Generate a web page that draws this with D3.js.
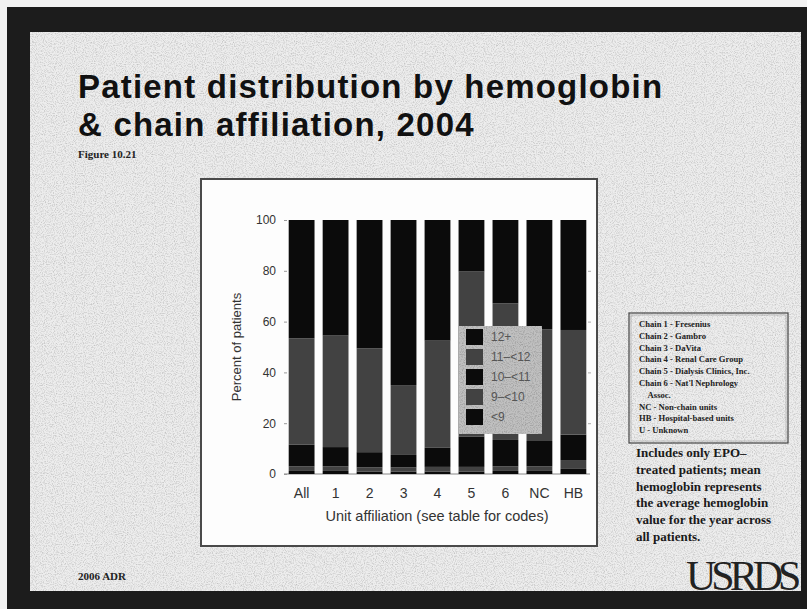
<!DOCTYPE html>
<html><head><meta charset="utf-8">
<script src="https://cdn.jsdelivr.net/npm/d3@7"></script>
<style>html,body{margin:0;padding:0;background:#fff;}svg{display:block;}</style>
</head><body>
<script>
// ---- data ----
const categories = ["All","1","2","3","4","5","6","NC","HB"];
const levels = ["<9","9–<10","10–<11","11–<12","12+"];
const lt9      = [1.2, 1.2, 1.0, 1.0, 1.0, 1.0, 1.2, 1.2, 2.0];
const hb9to10  = [1.8, 1.8, 1.6, 1.6, 1.8, 1.8, 1.8, 1.8, 3.5];
const hb10to11 = [8.5, 7.6, 6.0, 4.9, 7.5, 12.0, 10.4, 10.0, 10.0];
const hb11to12 = [41.9, 43.9, 40.9, 27.5, 42.2, 64.9, 53.8, 44.0, 41.2];
const hb12plus = [46.6, 45.5, 50.5, 65.0, 47.5, 20.3, 32.8, 43.0, 43.3];
const yTicks = [0,20,40,60,80,100];
const legendLabels = ["12+","11–<12","10–<11","9–<10","<9"];
const chainNotes = ["Chain 1 - Fresenius","Chain 2 - Gambro","Chain 3 - DaVita","Chain 4 - Renal Care Group",
  "Chain 5 - Dialysis Clinics, Inc.","Chain 6 - Nat'l Nephrology","    Assoc.","NC - Non-chain units",
  "HB - Hospital-based units","U - Unknown"];
const noteLines = ["Includes only EPO–","treated patients; mean","hemoglobin represents",
  "the average hemoglobin","value for the year across","all patients."];

const W=807,H=609;
const svg=d3.select("body").append("svg").attr("width",W).attr("height",H);
const defs=svg.append("defs");
const f=defs.append("filter").attr("id","noise").attr("x",0).attr("y",0).attr("width","100%").attr("height","100%");
f.append("feTurbulence").attr("type","fractalNoise").attr("baseFrequency",0.9).attr("numOctaves",2).attr("seed",3).attr("result","t");
f.append("feColorMatrix").attr("in","t").attr("type","matrix")
 .attr("values","0 0 0 0 0  0 0 0 0 0  0 0 0 0 0  0 0 0 -2.2 1.25");

// outer frame
svg.append("rect").attr("width",W).attr("height",H).attr("fill","#f2f2f2");
svg.append("rect").attr("x",7).attr("y",7).attr("width",W-7).attr("height",H-7).attr("fill","#1c1c1c");
svg.append("rect").attr("x",30).attr("y",32).attr("width",771).attr("height",559).attr("fill","#ededed");
svg.append("rect").attr("x",30).attr("y",32).attr("width",771).attr("height",559).attr("filter","url(#noise)").attr("opacity",0.18);

// title
const title=svg.append("text").attr("font-family","Liberation Sans, Arial, sans-serif").attr("font-weight","bold")
  .attr("font-size",33).attr("letter-spacing",1.2).attr("fill","#111");
title.append("tspan").attr("x",78).attr("y",98).text("Patient distribution by hemoglobin");
title.append("tspan").attr("x",78).attr("y",136).text("& chain affiliation, 2004");
svg.append("text").attr("x",78).attr("y",158).attr("font-family","Liberation Serif, serif").attr("font-weight","bold")
  .attr("font-size",11).attr("fill","#222").text("Figure 10.21");

// chart box
svg.append("rect").attr("x",201).attr("y",179).attr("width",396).attr("height",367)
  .attr("fill","#fdfdfd").attr("stroke","#4a4a4a").attr("stroke-width",2);

const x=d3.scaleBand().domain(categories).range([287,588]).paddingInner(0.24).paddingOuter(0.05);
const y=d3.scaleLinear().domain([0,100]).range([474,220]);

const rows=categories.map((c,i)=>({cat:c,"<9":lt9[i],"9–<10":hb9to10[i],"10–<11":hb10to11[i],"11–<12":hb11to12[i],"12+":hb12plus[i]}));
const stack=d3.stack().keys(levels)(rows);
const color=d3.scaleOrdinal().domain(levels).range(["#0b0b0b","#424242","#0b0b0b","#424242","#0b0b0b"]);

// axis baseline & ticks
const g=svg.append("g");
g.append("line").attr("x1",284).attr("x2",590).attr("y1",y(0)).attr("y2",y(0)).attr("stroke","#888").attr("stroke-width",1.2);
const yAxis=g.append("g").attr("transform","translate(287,0)").call(d3.axisLeft(y).tickValues(yTicks).tickSize(3).tickPadding(8));
yAxis.select(".domain").remove();
yAxis.selectAll("line").attr("stroke","#999");
yAxis.selectAll("text").attr("font-family","Liberation Sans Narrow, Liberation Sans, Arial, sans-serif").attr("font-size",12).attr("fill","#333");
const yR=g.append("g").attr("transform","translate(588,0)").call(d3.axisRight(y).tickValues(yTicks.slice(1,5)).tickSize(3).tickFormat(""));
yR.select(".domain").remove(); yR.selectAll("line").attr("stroke","#aaa");

svg.append("g").selectAll("g").data(stack).join("g").attr("fill",d=>color(d.key))
 .selectAll("rect").data(d=>d).join("rect")
 .attr("x",d=>x(d.data.cat)).attr("width",x.bandwidth())
 .attr("y",d=>y(d[1])).attr("height",d=>y(d[0])-y(d[1]));

// x axis labels
const xAxis=svg.append("g").attr("transform",`translate(0,${y(0)})`).call(d3.axisBottom(x).tickSize(0).tickPadding(14));
xAxis.select(".domain").remove();
xAxis.selectAll("text").attr("font-family","Liberation Sans Narrow, Liberation Sans, Arial, sans-serif").attr("font-size",14).attr("fill","#333");
svg.append("text").attr("x",437).attr("y",521).attr("text-anchor","middle")
  .attr("font-family","Liberation Sans Narrow, Liberation Sans, Arial, sans-serif").attr("font-size",14.5).attr("fill","#333")
  .text("Unit affiliation (see table for codes)");
svg.append("text").attr("transform","translate(241,347) rotate(-90)").attr("text-anchor","middle")
  .attr("font-family","Liberation Sans Narrow, Liberation Sans, Arial, sans-serif").attr("font-size",13).attr("fill","#333")
  .text("Percent of patients");

// legend
const lg=svg.append("g");
lg.append("rect").attr("x",459).attr("y",326).attr("width",83).attr("height",108).attr("fill","#c0c0c0");
lg.append("rect").attr("x",459).attr("y",326).attr("width",83).attr("height",108).attr("filter","url(#noise)").attr("opacity",0.2);
const legKeys=levels.slice().reverse();
legKeys.forEach((k,i)=>{
  const cy=337+i*20;
  lg.append("rect").attr("x",466).attr("y",cy-8).attr("width",17).attr("height",16).attr("fill",color(k));
  lg.append("text").attr("x",491).attr("y",cy+4).attr("font-family","Liberation Sans Narrow, Liberation Sans, Arial, sans-serif")
    .attr("font-size",12).attr("fill","#555").text(legendLabels[i]);
});

// chain notes box
svg.append("rect").attr("x",629).attr("y",313).attr("width",159).attr("height",130).attr("fill","none").attr("stroke","#444").attr("stroke-width",1.2);
svg.append("rect").attr("x",631).attr("y",315).attr("width",155).attr("height",126).attr("fill","none").attr("stroke","#999").attr("stroke-width",0.6);
const cn=svg.append("text").attr("font-family","Liberation Serif, serif").attr("font-size",8.6).attr("font-weight","bold").attr("fill","#222");
chainNotes.forEach((t,i)=>cn.append("tspan").attr("x",639).attr("y",327+i*11.8).text(t.replace(/^ +/,"\u00a0\u00a0\u00a0\u00a0")));
const nl=svg.append("text").attr("font-family","Liberation Serif, serif").attr("font-size",13).attr("font-weight","bold").attr("fill","#1a1a1a");
noteLines.forEach((t,i)=>nl.append("tspan").attr("x",636).attr("y",457+i*16.8).text(t));

// footer
svg.append("text").attr("x",78).attr("y",580).attr("font-family","Liberation Serif, serif").attr("font-weight","bold")
  .attr("font-size",11).attr("fill","#222").text("2006 ADR");
svg.append("text").attr("x",686).attr("y",590).attr("font-family","Liberation Serif, serif")
  .attr("font-size",42).attr("letter-spacing",-5).attr("fill","#222").text("USRDS");
</script>
</body></html>
